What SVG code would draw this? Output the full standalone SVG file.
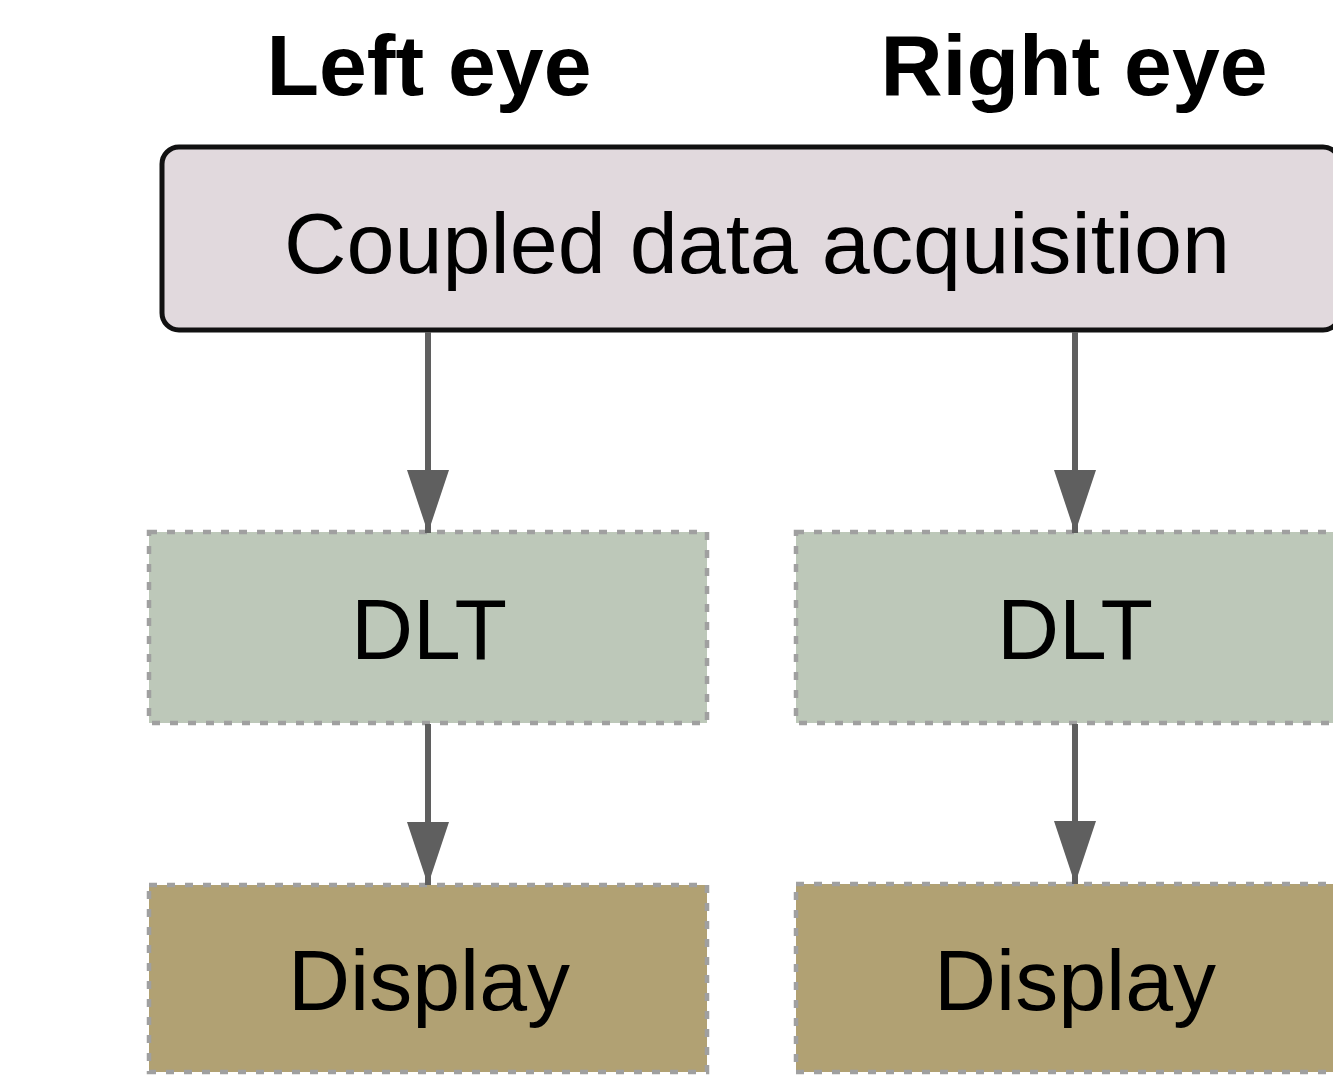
<svg xmlns="http://www.w3.org/2000/svg" width="1333" height="1076" viewBox="0 0 1333 1076">
  <style>
    .title { font-family: "Liberation Sans", Arial, sans-serif; font-weight: bold; font-size: 86px; fill: #000; text-anchor: middle; }
    .label { font-family: "Liberation Sans", Arial, sans-serif; font-size: 86px; fill: #000; text-anchor: middle; }
    .acq { fill: #e1d9dd; stroke: #111; stroke-width: 5; }
    .dlt { fill: #bdc8b9; stroke: #a0a0a0; stroke-width: 4.5; stroke-dasharray: 8 10; }
    .disp { fill: #b1a173; stroke: #a0a0a0; stroke-width: 4.5; stroke-dasharray: 8 10; }
    .edge { stroke: #5f5f5f; stroke-width: 6; fill: none; marker-end: url(#head); }
  </style>
  <defs>
    <marker id="head" viewBox="0 0 63 42" refX="63" refY="21" markerWidth="63" markerHeight="42" markerUnits="userSpaceOnUse" orient="auto">
      <path d="M0,0 L63,21 L0,42 Z" fill="#5f5f5f"/>
    </marker>
  </defs>

  <rect width="1333" height="1076" fill="#ffffff"/>

  <!-- column headings -->
  <text class="title" x="429" y="95">Left eye</text>
  <text class="title" x="1074" y="95">Right eye</text>

  <!-- shared acquisition stage -->
  <g id="acquisition">
    <rect class="acq" x="162" y="147" width="1178" height="183" rx="17"/>
    <text class="label" x="757" y="273" textLength="946" lengthAdjust="spacingAndGlyphs">Coupled data acquisition</text>
  </g>

  <!-- per-eye processing -->
  <g id="dlt-left">
    <rect class="dlt" x="149" y="532" width="558" height="191"/>
    <text class="label" x="429" y="659">DLT</text>
  </g>
  <g id="dlt-right">
    <rect class="dlt" x="796" y="532" width="558" height="191"/>
    <text class="label" x="1075" y="659">DLT</text>
  </g>

  <g id="display-left">
    <rect class="disp" x="149" y="885" width="558" height="187"/>
    <text class="label" x="429" y="1010">Display</text>
  </g>
  <g id="display-right">
    <rect class="disp" x="796" y="884" width="558" height="188"/>
    <text class="label" x="1075" y="1010">Display</text>
  </g>

  <!-- connectors -->
  <g id="connectors">
    <line class="edge" x1="428" y1="332" x2="428" y2="533"/>
    <line class="edge" x1="1075" y1="332" x2="1075" y2="533"/>
    <line class="edge" x1="428" y1="724" x2="428" y2="885"/>
    <line class="edge" x1="1075" y1="724" x2="1075" y2="884"/>
  </g>
</svg>
